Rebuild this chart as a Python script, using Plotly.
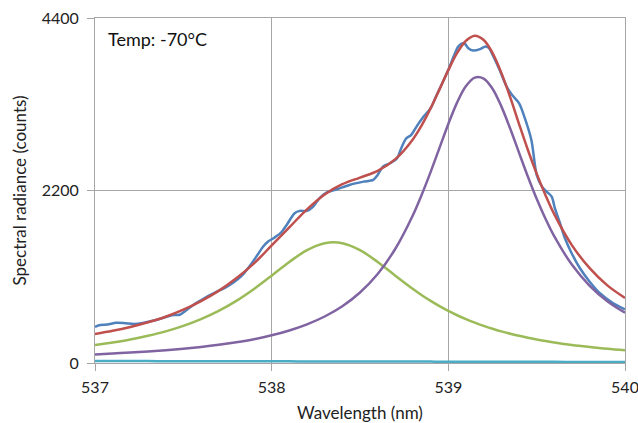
import plotly.graph_objects as go

# Fit curves
fit_x = [537.0, 537.1, 537.2, 537.3, 537.4, 537.5, 537.6, 537.7, 537.8, 537.9,
         538.0, 538.1, 538.2, 538.3, 538.4, 538.5, 538.6, 538.7, 538.8,
         538.85, 538.9, 538.95, 539.0, 539.05, 539.1, 539.15, 539.2, 539.25,
         539.3, 539.35, 539.4, 539.45, 539.5, 539.55,
         539.6, 539.7, 539.8, 539.9, 540.0]
fit_total = [370, 410, 460, 520, 590, 680, 790, 920, 1080, 1270,
             1500, 1730, 1960, 2150, 2280, 2365, 2450, 2600, 2855,
             3035, 3250, 3490, 3735, 3955, 4110, 4175, 4120, 3955,
             3700, 3390, 3050, 2720, 2415, 2140,
             1895, 1500, 1210, 990, 830]
peak1 = [230, 262, 300, 347, 403, 473, 559, 664, 792, 944,
         1114, 1289, 1439, 1528, 1528, 1439, 1289, 1114, 944,
         865, 792, 725, 664, 609, 559, 514, 473, 436,
         403, 374, 347, 322, 300, 280,
         262, 230, 204, 181, 162]
peak2 = [110, 121, 133, 147, 163, 182, 205, 232, 265, 304,
         353, 415, 493, 593, 724, 899, 1135, 1457, 1888,
         2150, 2438, 2744, 3049, 3324, 3532, 3640, 3628, 3498,
         3273, 2990, 2683, 2379, 2095, 1840,
         1615, 1252, 985, 788, 641]
baseline = [25, 25, 24, 24, 23, 23, 23, 22, 22, 21,
            21, 21, 20, 20, 20, 19, 19, 18, 18,
            18, 18, 17, 17, 17, 17, 17, 16, 16,
            16, 16, 15, 15, 15, 15,
            15, 14, 14, 13, 13]

data_x = [537.00, 537.03, 537.07, 537.12, 537.17, 537.22, 537.27, 537.32, 537.37,
          537.42, 537.45, 537.48, 537.51, 537.55, 537.60, 537.65, 537.69, 537.74,
          537.78, 537.83, 537.88, 537.92, 537.95, 537.98, 538.01, 538.05, 538.085,
          538.13, 538.16, 538.20, 538.235, 538.27, 538.31, 538.37, 538.44, 538.52,
          538.575, 538.60, 538.63, 538.67, 538.71, 538.73, 538.76, 538.79, 538.82,
          538.86, 538.90, 538.93, 538.97, 539.00, 539.03, 539.056, 539.08, 539.094,
          539.113, 539.14, 539.18, 539.21, 539.23, 539.255, 539.29, 539.33, 539.36,
          539.40, 539.43, 539.47, 539.50, 539.53, 539.556, 539.585, 539.603, 539.632,
          539.66, 539.698, 539.745, 539.80, 539.858, 539.933, 540.00]
data_y = [460, 485, 490, 512, 508, 498, 510, 535, 565,
          600, 612, 615, 660, 730, 800, 865, 910, 965,
          1020, 1110, 1250, 1380, 1480, 1550, 1591, 1655, 1761,
          1910, 1940, 1940, 1995, 2100, 2173, 2216, 2271, 2313,
          2335, 2399, 2505, 2548, 2612, 2720, 2860, 2909, 3015,
          3143, 3250, 3398, 3589, 3739, 3909, 4036, 4079, 4070,
          4015, 3985, 4003, 4036, 4015, 3909, 3739, 3526, 3420,
          3314, 3143, 2845, 2400, 2250, 2186, 2122, 1974, 1783,
          1591, 1400, 1208, 1037, 889, 762, 685]

x_ticks = [537, 538, 539, 540]
y_ticks = [0, 2200, 4400]

FONT = "Lato, 'Open Sans', sans-serif"
GRID = "#a6a6a6"

fig = go.Figure()
fig.add_trace(go.Scatter(x=data_x, y=data_y, mode="lines", line=dict(color="#4F81BD", width=2.5, shape="spline", smoothing=0.8)))
fig.add_trace(go.Scatter(x=fit_x, y=fit_total, mode="lines", line=dict(color="#C0504D", width=2.5, shape="spline")))
fig.add_trace(go.Scatter(x=fit_x, y=peak1, mode="lines", line=dict(color="#9BBB59", width=2.5, shape="spline")))
fig.add_trace(go.Scatter(x=fit_x, y=peak2, mode="lines", line=dict(color="#8064A2", width=2.5, shape="spline")))
fig.add_trace(go.Scatter(x=fit_x, y=baseline, mode="lines", line=dict(color="#4BACC6", width=2.5, shape="spline")))

fig.add_annotation(x=537.065, y=4130, xref="x", yref="y", text="Temp: -70°C", showarrow=False,
                   xanchor="left", yanchor="middle", font=dict(family=FONT, size=18, color="#111111"))

fig.update_layout(
    width=638, height=423,
    margin=dict(l=95, r=13, t=18, b=60),
    paper_bgcolor="white", plot_bgcolor="white",
    showlegend=False,
    font=dict(family=FONT, size=16, color="#222222"),
)
fig.update_xaxes(
    range=[537, 540], tickvals=x_ticks, ticktext=[str(v) for v in x_ticks],
    automargin=False, ticklabeloverflow="allow",
    showgrid=True, gridcolor=GRID, gridwidth=1,
    showline=True, linecolor=GRID, linewidth=1, mirror=True,
    ticks="outside", ticklen=7, tickcolor=GRID, ticklabelstandoff=3,
    tickfont=dict(size=16),
    zeroline=False,
    title=dict(text="Wavelength (nm)", standoff=13, font=dict(family=FONT, size=17)),
)
fig.update_yaxes(
    range=[0, 4400], tickvals=y_ticks, ticktext=[str(v) for v in y_ticks],
    automargin=False, ticklabeloverflow="allow",
    showgrid=True, gridcolor=GRID, gridwidth=1,
    showline=True, linecolor=GRID, linewidth=1, mirror=True,
    ticks="outside", ticklen=7, tickcolor=GRID, ticklabelstandoff=5,
    tickfont=dict(size=16),
    zeroline=False,
    title=dict(text="Spectral radiance (counts)", standoff=10, font=dict(family=FONT, size=17)),
)

fig.write_html("out.html", config={"displayModeBar": False},
               post_script="document.body.style.margin='0';document.body.style.overflow='hidden';")
